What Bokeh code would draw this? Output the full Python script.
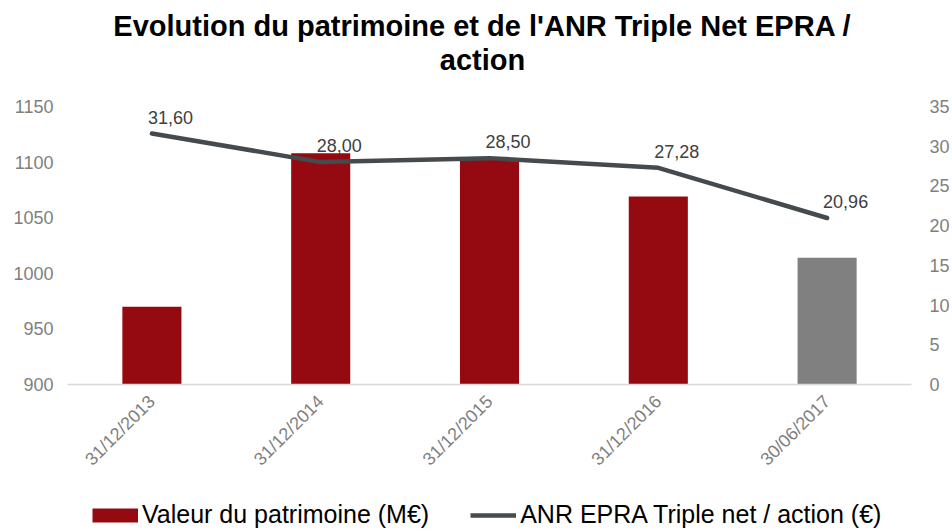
from bokeh.plotting import figure
from bokeh.models import (FactorRange, Range1d, LinearAxis, FixedTicker, Legend,
                          LegendItem, ColumnDataSource, Label)
from bokeh.layouts import column
from bokeh.core.properties import value
from bokeh.embed import file_html
from bokeh.resources import INLINE
import math

categories = ["31/12/2013", "31/12/2014", "31/12/2015", "31/12/2016", "30/06/2017"]
patrimoine = [970, 1108, 1102, 1069, 1014]
anr = [31.60, 28.00, 28.50, 27.28, 20.96]
anr_labels = ["31,60", "28,00", "28,50", "27,28", "20,96"]
bar_colors = ["#940A10", "#940A10", "#940A10", "#940A10", "#808080"]
left_ticks = [900, 950, 1000, 1050, 1100, 1150]
right_ticks = [0, 5, 10, 15, 20, 25, 30, 35]
title_lines = ["Evolution du patrimoine et de l'ANR Triple Net EPRA /", "action"]
legend_labels = ["Valeur du patrimoine (M€)", "ANR EPRA Triple net / action (€)"]

FONT = "Liberation Sans"
RED = "#940A10"
LINE = "#454A4E"
TITLE_H = 96

src = ColumnDataSource(dict(cat=categories, pat=patrimoine, anr=anr,
                            lab=anr_labels, col=bar_colors))

# ---- title strip ----
tf = figure(width=952, height=TITLE_H, output_backend="svg", toolbar_location=None,
            x_axis_location=None, y_axis_location=None, title=None,
            x_range=Range1d(0, 1), y_range=Range1d(TITLE_H, 0),
            min_border=0, min_border_left=0, min_border_right=0,
            min_border_top=0, min_border_bottom=0)
tf.outline_line_color = None
tf.grid.visible = False
for txt, base in zip(title_lines, [25, 59]):
    tf.add_layout(Label(x=0.5, y=base, text=txt, text_align="center",
                        text_baseline="alphabetic", x_offset=-7,
                        text_font=FONT, text_font_size="29px",
                        text_font_style="bold", text_color="#000000"))

# ---- main chart ----
p = figure(width=952, height=500 - TITLE_H,
           x_range=FactorRange(*categories, range_padding=0),
           y_range=Range1d(900, 1150), output_backend="svg", toolbar_location=None,
           title=None,
           min_border_left=67, min_border_right=40, min_border_top=106 - TITLE_H,
           min_border_bottom=116)
p.extra_y_ranges = {"right": Range1d(0, 35)}
p.outline_line_color = None
p.grid.visible = False

bars = p.vbar(x="cat", top="pat", bottom=900, width=0.35, fill_color="col",
              line_color=None, source=src)
line = p.line(x="cat", y="anr", y_range_name="right", line_color=LINE,
              line_width=4.5, line_cap="round", source=src)
p.text(x="cat", y="anr", text="lab", y_range_name="right", source=src,
       text_font=value(FONT), text_font_size="18px", text_color="#404040",
       text_align="left", text_baseline="bottom", x_offset=-4, y_offset=-10)

# left axis
ya = p.yaxis[0]
ya.ticker = FixedTicker(ticks=left_ticks)
ya.axis_line_color = None
ya.major_tick_line_color = None
ya.minor_tick_line_color = None
ya.major_tick_out = 0
ya.major_tick_in = 0
ya.minor_tick_out = 0
ya.major_label_standoff = 14
ya.major_label_text_font = FONT
ya.major_label_text_font_size = "18px"
ya.major_label_text_color = "#7F7F7F"

# right axis
ra = LinearAxis(y_range_name="right", ticker=FixedTicker(ticks=right_ticks))
ra.axis_line_color = None
ra.major_tick_line_color = None
ra.minor_tick_line_color = None
ra.major_tick_out = 0
ra.major_tick_in = 0
ra.minor_tick_out = 0
ra.major_label_standoff = 18
ra.major_label_text_font = FONT
ra.major_label_text_font_size = "18px"
ra.major_label_text_color = "#7F7F7F"
p.add_layout(ra, "right")

# x axis
xa = p.xaxis[0]
xa.axis_line_color = "#D9D9D9"
xa.axis_line_width = 1.5
xa.major_tick_line_color = None
xa.minor_tick_line_color = None
xa.major_tick_out = 0
xa.major_tick_in = 0
xa.major_label_orientation = math.pi / 4
xa.major_label_standoff = 14
xa.major_label_text_font = FONT
xa.major_label_text_font_size = "18px"
xa.major_label_text_color = "#7F7F7F"

# ---- legend strip ----
lg = figure(width=952, height=30, output_backend="svg", toolbar_location=None,
            x_axis_location=None, y_axis_location=None, title=None,
            x_range=FactorRange(*categories), y_range=Range1d(0, 1),
            min_border=0, min_border_left=0, min_border_right=0,
            min_border_top=0, min_border_bottom=0)
lg.outline_line_color = None
lg.grid.visible = False
# single-point proxies: they draw nothing in the strip, only their legend swatches
proxy_bar = lg.line(x=categories[:1], y=[0], line_color=RED, line_width=14,
                    line_cap="butt")
proxy_line = lg.line(x=categories[:1], y=[0], line_color=LINE, line_width=4.5)
legend = Legend(items=[LegendItem(label=legend_labels[0], renderers=[proxy_bar], index=0),
                       LegendItem(label=legend_labels[1], renderers=[proxy_line], index=0)],
                orientation="horizontal", location=(25, 1), padding=0, margin=0,
                glyph_width=46, glyph_height=16, label_standoff=4, spacing=41,
                label_text_font=FONT, label_text_font_size="25px",
                label_text_color="#000000", border_line_color=None,
                background_fill_alpha=0)
lg.add_layout(legend, "center")

open("out.html", "w").write(file_html(column(tf, p, lg), INLINE))
